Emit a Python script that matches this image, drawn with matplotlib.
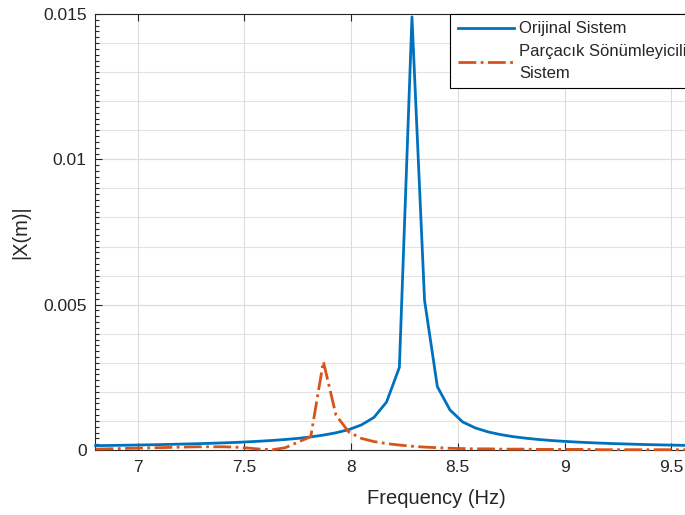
import numpy as np
import matplotlib.pyplot as plt
from matplotlib.ticker import MultipleLocator, FuncFormatter

plt.rcParams['font.family'] = ['Liberation Sans', 'DejaVu Sans']

# frequency grid (Hz)
freq = [6.803, 6.862, 6.921, 6.980, 7.040, 7.099, 7.158, 7.218, 7.277, 7.336,
        7.396, 7.455, 7.514, 7.573, 7.633, 7.692, 7.751, 7.811, 7.870, 7.929,
        7.989, 8.048, 8.107, 8.166, 8.226, 8.285, 8.344, 8.404, 8.463, 8.522,
        8.582, 8.641, 8.700, 8.759, 8.819, 8.878, 8.937, 8.997, 9.056, 9.115,
        9.175, 9.234, 9.293, 9.352, 9.412, 9.471, 9.530, 9.590]

# original system |X| (m)
x_orig = [0.000150, 0.000156, 0.000162, 0.000169, 0.000177, 0.000185, 0.000195, 0.000205,
          0.000216, 0.000229, 0.000244, 0.000260, 0.000280, 0.000303, 0.000330, 0.000362,
          0.000400, 0.000450, 0.000513, 0.000592, 0.000702, 0.000862, 0.001121, 0.001650,
          0.002840, 0.014900, 0.005150, 0.002180, 0.001380, 0.000967, 0.000759, 0.000624,
          0.000530, 0.000459, 0.000405, 0.000362, 0.000327, 0.000298, 0.000274, 0.000253,
          0.000235, 0.000219, 0.000206, 0.000193, 0.000182, 0.000173, 0.000164, 0.000156]

# system with particle damper |X| (m)
x_damp = [0.00003, 0.00004, 0.00005, 0.00006, 0.00007, 0.00008, 0.00009, 0.00010,
          0.00011, 0.00011, 0.00011, 0.00010, 0.00007, 0.00003, 0.00001, 0.00008,
          0.00027, 0.00046, 0.00304, 0.00120, 0.00062, 0.00040, 0.00029, 0.00022,
          0.00017, 0.00013, 0.00010, 0.00008, 0.00006, 0.00005, 0.00004, 0.00004,
          0.00003, 0.00003, 0.00003, 0.00002, 0.00002, 0.00002, 0.00002, 0.00002,
          0.00001, 0.00001, 0.00001, 0.00001, 0.00001, 0.00001, 0.00001, 0.00001]

labels = ["Orijinal Sistem", "Parçacık Sönümleyicili\nSistem"]

txt = '#262626'
fig = plt.figure(figsize=(6.85, 5.15), dpi=100)
# axes run past the right edge of the picture, like the cropped original
ax = fig.add_axes([95 / 685, 65 / 515, (778 - 95) / 685, 436 / 515])

# horizontal minor grid every 0.001
for yy in np.arange(0.001, 0.015, 0.001):
    ax.axhline(yy, color='#e3e3e3', lw=0.8, zorder=0)
ax.grid(True, which='major', color='#dcdcdc', lw=0.8, zorder=0)

ax.plot(freq, x_orig, '-', color='#0072BD', lw=2, label=labels[0], clip_on=False, zorder=3)
ax.plot(freq, x_damp, '-.', color='#D95319', lw=2, label=labels[1], clip_on=False, zorder=4)

ax.set_xlim(6.8, 10)
ax.set_ylim(0, 0.015)
ax.set_xticks([7, 7.5, 8, 8.5, 9, 9.5, 10])
ax.set_yticks([0, 0.005, 0.01, 0.015])
ax.yaxis.set_minor_locator(MultipleLocator(0.0002))
ax.yaxis.set_major_formatter(FuncFormatter(lambda v, p: '%g' % round(v, 4)))
ax.xaxis.set_major_formatter(FuncFormatter(lambda v, p: '%g' % v))

ax.tick_params(which='both', direction='in', top=True, right=True, colors=txt,
               labelsize=12.5, width=0.8)
ax.tick_params(which='major', length=5)
ax.tick_params(which='minor', length=3)
ax.tick_params(axis='y', pad=6)
ax.tick_params(axis='x', pad=7)
for s in ax.spines.values():
    s.set_color(txt)
    s.set_linewidth(0.8)

ax.set_xlabel("Frequency (Hz)", fontsize=14.5, color=txt, labelpad=10)
ax.set_ylabel("|X(m)|", fontsize=14.5, color=txt, labelpad=9)

leg = ax.legend(loc='upper left', bbox_to_anchor=((450 - 95) / (778 - 95), 1.0),
                borderaxespad=0, fontsize=12, handlelength=3.4, handletextpad=0.3,
                fancybox=False, framealpha=1, edgecolor='black', labelspacing=0.45,
                borderpad=0.45)
leg.get_frame().set_linewidth(0.8)
for t in leg.get_texts():
    t.set_color(txt)
    t.set_linespacing(1.55)

fig.savefig('out.png', dpi=100)
